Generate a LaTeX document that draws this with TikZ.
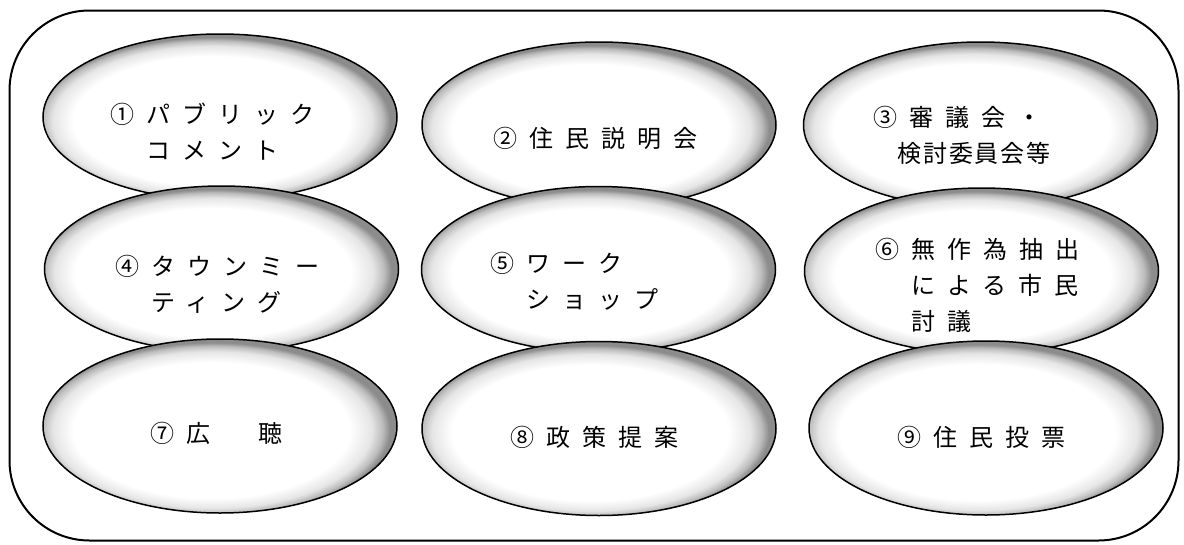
\documentclass[tikz,border=0pt]{standalone}
\usepackage{fontspec}
\newfontfamily\jp[LetterSpace=50]{Noto Sans CJK JP}
\newfontfamily\jpt[LetterSpace=8]{Noto Sans CJK JP}
\usetikzlibrary{shapes.geometric}
\pgfdeclareradialshading{ellshade}{\pgfpoint{-2bp}{-2bp}}{color(0bp)=(white); color(19.5bp)=(white); color(22.5bp)=(black!10); color(24bp)=(black!26); color(25bp)=(black!45); color(50bp)=(black!45)}
\tikzset{
  frame/.style={draw=black, line width=2pt, rounded corners=80pt, minimum width=1169pt, minimum height=530pt, inner sep=0pt},
  bubble/.style={ellipse, draw=black, line width=1.5pt, shading=ellshade, minimum width=354pt, minimum height=166pt, inner sep=0pt},
  tallbubble/.style={bubble, minimum height=174pt},
  lbl/.style={anchor=west, inner sep=0pt, align=left, font=\fontsize{24}{36}\selectfont\jp}
}
\begin{document}
\begin{tikzpicture}[x=1pt,y=-1pt]
\useasboundingbox (0,0) rectangle (1184,544);
\node[frame] (frame) at (594,275.5) {};
% row 1
\node[bubble] (e1) at (220,117) {};
\node[bubble] (e2) at (599,125) {};
\node[bubble] (e3) at (980.5,125) {};
% row 2
\node[bubble] (e4) at (221.5,269) {};
\node[bubble] (e5) at (598.5,269.5) {};
\node[bubble] (e6) at (981.5,271) {};
% row 3
\node[tallbubble] (e7) at (220,426) {};
\node[tallbubble] (e8) at (599,428.5) {};
\node[tallbubble] (e9) at (986,428) {};
% texts
\node[lbl] (t1) at (110,131.5) {①パブリック\\　コメント};
\node[lbl] (t2) at (493,138) {②住民説明会};
\node[lbl] (t3) at (873,135) {③審議会・\\　{\jpt 検討委員会等}};
\node[lbl] (t4) at (115,284) {④タウンミー\\　ティング};
\node[lbl] (t5) at (490,281.5) {⑤ワーク\\　ショップ};
\node[lbl] (t6) at (875,285) {⑥無作為抽出\\　による市民\\　討議};
\node[lbl] (t7) at (150,433) {⑦広　聴};
\node[lbl] (t8) at (510,437) {⑧政策提案};
\node[lbl] (t9) at (897,437) {⑨住民投票};
\end{tikzpicture}
\end{document}
